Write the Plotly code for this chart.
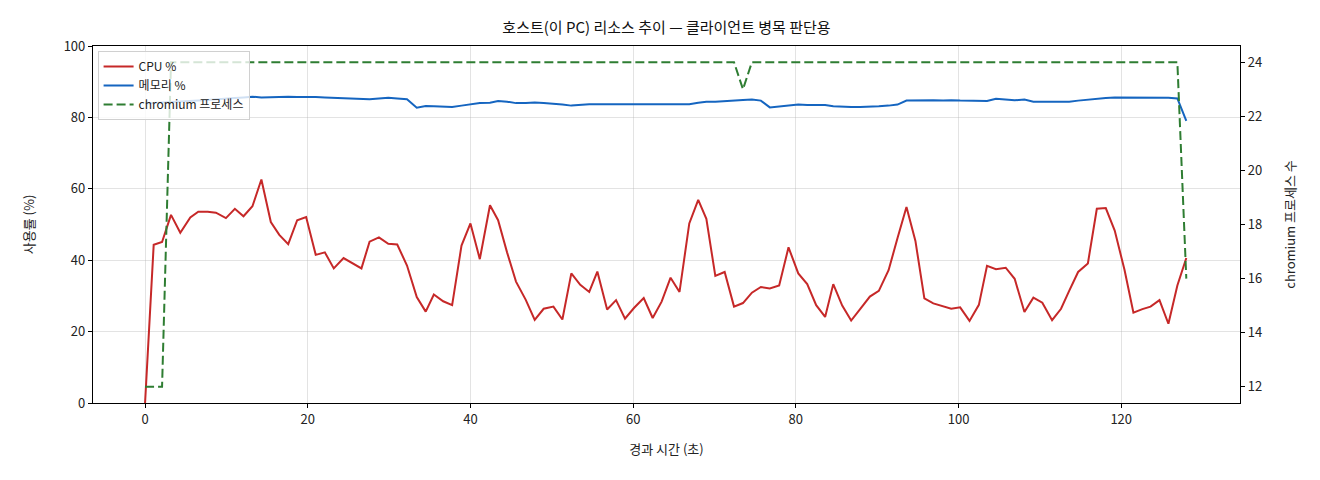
import plotly.graph_objects as go

# 경과 시간 (초)
elapsed = [0, 1.06, 2.09, 3.19, 4.33, 5.56, 6.54, 7.7, 8.71, 9.94,
           11.04, 12.1, 13.2, 14.3, 15.46, 16.5, 17.6, 18.7, 19.8, 20.98,
           22.1, 23.2, 24.4, 25.5, 26.6, 27.6, 28.75, 29.9, 31.0, 32.2,
           33.4, 34.5, 35.5, 36.65, 37.75, 38.9, 40.0, 41.15, 42.4, 43.4,
           44.5, 45.6, 46.8, 47.9, 49.0, 50.2, 51.3, 52.4, 53.5, 54.6,
           55.6, 56.8, 57.9, 59.0, 60.1, 61.3, 62.4, 63.5, 64.6, 65.7,
           66.9, 68.0, 69.0, 70.1, 71.25, 72.4, 73.5, 74.6, 75.7, 76.8,
           77.95, 79.1, 80.3, 81.4, 82.5, 83.6, 84.6, 85.7, 86.8, 87.9,
           89.1, 90.2, 91.4, 92.5, 93.6, 94.7, 95.8, 96.9, 98.1, 99.1,
           100.2, 101.35, 102.5, 103.5, 104.6, 105.8, 106.9, 108.1, 109.2, 110.3,
           111.5, 112.6, 113.6, 114.7, 115.9, 117.0, 118.1, 119.2, 120.4, 121.5,
           122.6, 123.6, 124.7, 125.8, 126.9, 128.0]

cpu_pct = [0, 44.3, 45.1, 52.7, 47.7, 52.0, 53.6, 53.6, 53.3, 51.8,
           54.4, 52.3, 55.1, 62.6, 50.7, 47.1, 44.5, 51.2, 52.1, 41.5,
           42.2, 37.7, 40.6, 39.1, 37.7, 45.2, 46.4, 44.6, 44.4, 38.5,
           29.7, 25.6, 30.4, 28.5, 27.4, 44.1, 50.3, 40.3, 55.4, 51.2,
           42.2, 34.0, 28.9, 23.3, 26.4, 27.0, 23.4, 36.3, 33.1, 31.1,
           36.8, 26.2, 28.8, 23.6, 26.6, 29.4, 23.8, 28.4, 35.1, 31.1,
           50.3, 56.9, 51.6, 35.6, 36.7, 27.0, 28.0, 30.9, 32.5, 32.1,
           32.9, 43.6, 36.3, 33.3, 27.4, 24.1, 33.3, 27.3, 23.1, 26.3,
           29.8, 31.4, 37.2, 46.2, 54.9, 45.4, 29.3, 27.9, 27.0, 26.4,
           26.8, 23.0, 27.5, 38.4, 37.5, 37.9, 34.8, 25.5, 29.5, 28.1,
           23.2, 26.4, 31.4, 36.7, 39.1, 54.4, 54.6, 48.3, 37.3, 25.3,
           26.3, 27.0, 28.8, 22.2, 32.9, 40.6]

mem_pct = [83.9, 84.0, 84.1, 84.2, 84.4, 84.5, 84.7, 84.9, 85.0, 85.2,
           85.4, 85.6, 85.8, 85.6, 85.7, 85.7, 85.8, 85.7, 85.8, 85.7,
           85.6, 85.5, 85.3, 85.2, 85.0, 85.1, 85.3, 85.5, 85.3, 85.1,
           82.7, 83.2, 83.1, 83.0, 82.9, 83.3, 83.7, 84.0, 84.1, 84.6,
           84.4, 84.0, 84.0, 84.2, 84.0, 83.9, 83.6, 83.3, 83.6, 83.7,
           83.7, 83.7, 83.7, 83.7, 83.7, 83.7, 83.7, 83.7, 83.7, 83.7,
           83.7, 84.1, 84.4, 84.4, 84.5, 84.6, 84.9, 85.0, 84.7, 82.8,
           83.1, 83.4, 83.6, 83.5, 83.5, 83.5, 83.1, 82.9, 82.9, 82.9,
           82.9, 83.1, 83.3, 83.6, 84.7, 84.8, 84.8, 84.8, 84.7, 84.8,
           84.7, 84.6, 84.5, 84.6, 85.2, 84.9, 84.8, 85.0, 84.4, 84.4,
           84.4, 84.4, 84.4, 84.7, 85.0, 85.3, 85.4, 85.6, 85.6, 85.6,
           85.6, 85.6, 85.5, 85.5, 85.3, 79.0]

chromium_procs = [12, 12, 12, 24, 24, 24, 24, 24, 24, 24,
                  24, 24, 24, 24, 24, 24, 24, 24, 24, 24,
                  24, 24, 24, 24, 24, 24, 24, 24, 24, 24,
                  24, 24, 24, 24, 24, 24, 24, 24, 24, 24,
                  24, 24, 24, 24, 24, 24, 24, 24, 24, 24,
                  24, 24, 24, 24, 24, 24, 24, 24, 24, 24,
                  24, 24, 24, 24, 24, 24, 23, 24, 24, 24,
                  24, 24, 24, 24, 24, 24, 24, 24, 24, 24,
                  24, 24, 24, 24, 24, 24, 24, 24, 24, 24,
                  24, 24, 24, 24, 24, 24, 24, 24, 24, 24,
                  24, 24, 24, 24, 24, 24, 24, 24, 24, 24,
                  24, 24, 24, 24, 24, 16]

FONT = "Noto Sans CJK KR"
GRID = "rgba(176,176,176,0.35)"

fig = go.Figure()
fig.add_trace(go.Scatter(x=elapsed, y=cpu_pct, mode="lines", name="CPU %",
                         line=dict(color="#c62828", width=2)))
fig.add_trace(go.Scatter(x=elapsed, y=mem_pct, mode="lines", name="메모리 %",
                         line=dict(color="#1565c0", width=2)))
fig.add_trace(go.Scatter(x=elapsed, y=chromium_procs, mode="lines", name="chromium 프로세스",
                         yaxis="y2", line=dict(color="#2e7d32", width=2, dash="9px,4px")))

axis_common = dict(showline=True, linecolor="black", linewidth=1.2, ticks="outside",
                   ticklen=4, tickcolor="black", tickfont=dict(size=13, color="#222"),
                   zeroline=False)

# page body adds ~8px offset, margins compensate for it
fig.update_layout(
    width=1320, height=480,
    margin=dict(l=85, r=88, t=38, b=85),
    plot_bgcolor="white", paper_bgcolor="white",
    font=dict(family=FONT, color="#222"),
    title=dict(text="호스트(이 PC) 리소스 추이 — 클라이언트 병목 판단용",
               x=0.5, xref="paper", xanchor="center", y=0.958, yanchor="middle",
               font=dict(size=15, color="#111")),
    xaxis=dict(range=[-6.4, 134.6], tickvals=[0, 20, 40, 60, 80, 100, 120],
               showgrid=True, gridcolor=GRID, mirror=True,
               title=dict(text="경과 시간 (초)", font=dict(size=13), standoff=18),
               **axis_common),
    yaxis=dict(range=[0, 100], tickvals=[0, 20, 40, 60, 80, 100],
               showgrid=True, gridcolor=GRID, mirror=True,
               title=dict(text="사용률 (%)", font=dict(size=13), standoff=26),
               **axis_common),
    yaxis2=dict(range=[11.4, 24.6], tickvals=[12, 14, 16, 18, 20, 22, 24],
                overlaying="y", side="right", showgrid=False,
                title=dict(text="chromium 프로세스 수", font=dict(size=13), standoff=24),
                **axis_common),
    legend=dict(x=0.004, y=0.986, xanchor="left", yanchor="top",
                bgcolor="rgba(255,255,255,0.8)", bordercolor="#d0d0d0", borderwidth=1,
                font=dict(size=12, color="#222"), tracegroupgap=0),
    showlegend=True,
)

fig.write_html("out.html")
